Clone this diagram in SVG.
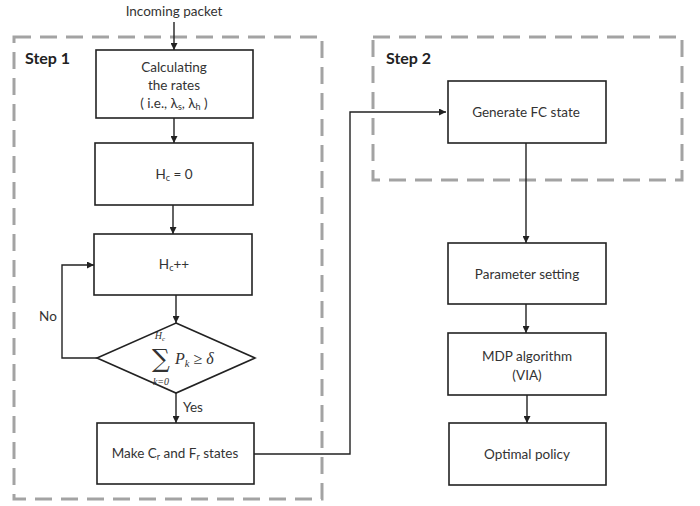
<svg xmlns="http://www.w3.org/2000/svg" width="700" height="506" viewBox="0 0 700 506">
  <defs>
    <marker id="arr" viewBox="0 0 10 10" refX="10" refY="5" markerWidth="7" markerHeight="7" orient="auto" markerUnits="userSpaceOnUse">
      <path d="M0,0 L10,5 L0,10 z" fill="#222"/>
    </marker>
    <style>
      .box { fill: #fff; stroke: #222; stroke-width: 1.6; }
      .step { fill: none; stroke: #a3a3a3; stroke-width: 3; stroke-dasharray: 17 9; }
      .lbl { font-family: Lato, "Liberation Sans", sans-serif; font-size: 13.5px; fill: #333; text-anchor: middle; }
      .sub { font-size: 9px; }
      .title { font-family: Lato, "Liberation Sans", sans-serif; font-size: 16px; font-weight: bold; fill: #222; }
      .math { font-family: "Liberation Serif", serif; font-style: italic; fill: #333; }
      .conn { fill: none; stroke: #222; stroke-width: 1.4; }
    </style>
  </defs>
  <rect width="700" height="506" fill="#fff"/>

  <!-- stage frames -->
  <g id="step1">
    <rect class="step" x="14" y="37" width="308" height="462"/>
    <text class="title" x="25" y="64">Step 1</text>
  </g>
  <g id="step2">
    <rect class="step" x="373" y="37" width="309" height="143"/>
    <text class="title" x="386" y="64">Step 2</text>
  </g>

  <!-- connectors -->
  <g id="connectors">
    <line class="conn" x1="174" y1="22" x2="174" y2="50" marker-end="url(#arr)"/>
    <line class="conn" x1="174" y1="118" x2="174" y2="143" marker-end="url(#arr)"/>
    <line class="conn" x1="173" y1="205" x2="173" y2="234" marker-end="url(#arr)"/>
    <line class="conn" x1="176" y1="295" x2="176" y2="323" marker-end="url(#arr)"/>
    <polyline class="conn" points="97,358 62,358 62,265 94,265" marker-end="url(#arr)"/>
    <line class="conn" x1="176" y1="393" x2="176" y2="423" marker-end="url(#arr)"/>
    <polyline class="conn" points="254,454 350,454 350,112 446,112" marker-end="url(#arr)"/>
    <line class="conn" x1="526" y1="143" x2="526" y2="243" marker-end="url(#arr)"/>
    <line class="conn" x1="526" y1="304" x2="526" y2="333" marker-end="url(#arr)"/>
    <line class="conn" x1="527" y1="395" x2="527" y2="423" marker-end="url(#arr)"/>
    <text class="lbl" x="174" y="16">Incoming packet</text>
    <text class="lbl" x="48" y="321">No</text>
    <text class="lbl" x="193" y="412">Yes</text>
  </g>

  <!-- nodes -->
  <g id="calc">
    <rect class="box" x="96" y="50" width="157" height="68"/>
    <text class="lbl" x="174" y="72">Calculating</text>
    <text class="lbl" x="174" y="90">the rates</text>
    <text class="lbl" x="174" y="108">( i.e., λ<tspan class="sub" dy="2">s</tspan><tspan dy="-2">, λ</tspan><tspan class="sub" dy="2">h</tspan><tspan dy="-2"> )</tspan></text>
  </g>
  <g id="hc0">
    <rect class="box" x="95" y="143" width="158" height="62"/>
    <text class="lbl" x="174" y="179">H<tspan class="sub" dy="2">c</tspan><tspan dy="-2"> = 0</tspan></text>
  </g>
  <g id="hcinc">
    <rect class="box" x="94" y="234" width="158" height="61"/>
    <text class="lbl" x="174" y="269">H<tspan class="sub" dy="2">c</tspan><tspan dy="-2">++</tspan></text>
  </g>
  <g id="check">
    <polygon class="box" points="176,323 255,358 176,393 97,358"/>
    <text class="math" x="160" y="339" font-size="10" text-anchor="middle">H<tspan font-size="7" dy="2">c</tspan></text>
    <text x="161" y="367" font-family="'DejaVu Serif', 'Liberation Serif', serif" font-size="25" fill="#333" text-anchor="middle">∑</text>
    <text class="math" x="161" y="385" font-size="10" text-anchor="middle">k=0</text>
    <text class="math" x="175" y="364" font-size="16">P<tspan font-size="10.5" dy="3">k</tspan><tspan dy="-3" font-style="normal"> ≥ </tspan>δ</text>
  </g>
  <g id="make">
    <rect class="box" x="97" y="423" width="157" height="61"/>
    <text class="lbl" x="175" y="458">Make C<tspan class="sub" dy="2">r</tspan><tspan dy="-2"> and F</tspan><tspan class="sub" dy="2">r</tspan><tspan dy="-2"> states</tspan></text>
  </g>
  <g id="fc">
    <rect class="box" x="448" y="81" width="158" height="62"/>
    <text class="lbl" x="526" y="117">Generate FC state</text>
  </g>
  <g id="param">
    <rect class="box" x="448" y="243" width="158" height="61"/>
    <text class="lbl" x="527" y="279">Parameter setting</text>
  </g>
  <g id="mdp">
    <rect class="box" x="448" y="333" width="158" height="62"/>
    <text class="lbl" x="527" y="361">MDP algorithm</text>
    <text class="lbl" x="527" y="380">(VIA)</text>
  </g>
  <g id="policy">
    <rect class="box" x="449" y="423" width="157" height="62"/>
    <text class="lbl" x="527" y="459">Optimal policy</text>
  </g>
</svg>
